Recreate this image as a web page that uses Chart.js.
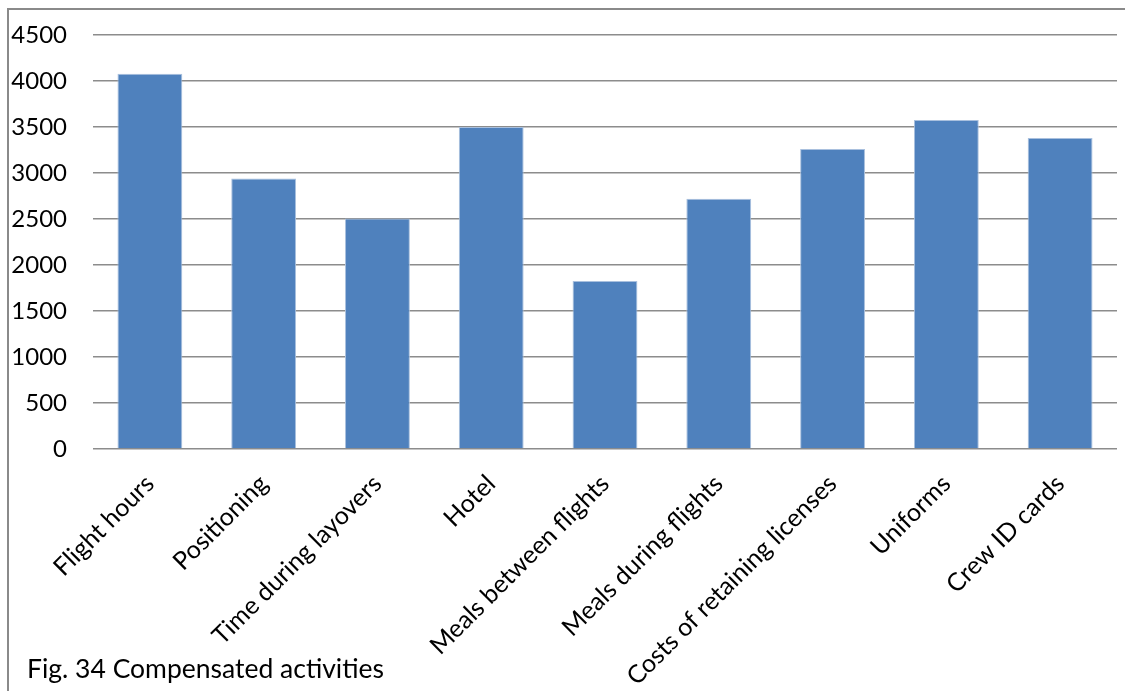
<!DOCTYPE html>
<html>
<head>
<meta charset="utf-8">
<script src="https://cdn.jsdelivr.net/npm/chart.js@4.4.1/dist/chart.umd.min.js"></script>
<style>
  html, body { margin: 0; padding: 0; background: #fff; }
  #wrap { position: relative; width: 1125px; height: 691px; overflow: hidden; }
  #frame { position: absolute; left: 7px; top: 8px; width: 1200px; height: 800px; border-left: 2px solid #8a8a8a; border-top: 2px solid #8a8a8a; box-sizing: border-box; }
  #caption { position: absolute; left: 27px; top: 652px; font-family: Lato, "Open Sans", sans-serif; font-size: 26.5px; color: #000; white-space: nowrap; }
  canvas { position: absolute; left: 0; top: 0; }
</style>
</head>
<body>
<div id="wrap">
  <div id="frame"></div>
  <canvas id="c" width="1125" height="691"></canvas>
  <div id="caption">Fig. 34 Compensated activities</div>
</div>
<script>
const categories = ["Flight hours", "Positioning", "Time during layovers", "Hotel", "Meals between flights", "Meals during flights", "Costs of retaining licenses", "Uniforms", "Crew ID cards"];
const values = [4080, 2940, 2505, 3500, 1825, 2720, 3260, 3575, 3380];
const yMin = 0, yMax = 4500, yStep = 500;

new Chart(document.getElementById('c'), {
  type: 'bar',
  data: {
    labels: categories,
    datasets: [{
      data: values,
      backgroundColor: '#4f81bd',
      borderColor: '#a9c0de',
      borderWidth: 1,
      barPercentage: 0.57,
      categoryPercentage: 1.0
    }]
  },
  options: {
    responsive: false,
    animation: false,
    devicePixelRatio: 1,
    layout: { padding: { left: 0, top: 35, right: 8, bottom: 0 } },
    plugins: { legend: { display: false }, tooltip: { enabled: false }, title: { display: false } },
    scales: {
      x: {
        grid: { display: false },
        border: { display: false },
        ticks: {
          minRotation: 45, maxRotation: 45, autoSkip: false,
          color: '#000', padding: 12,
          font: { family: 'Lato, "Open Sans", sans-serif', size: 25 }
        },
        afterFit: s => { s.height = 242; s.paddingLeft = 0; s.paddingRight = 0; }
      },
      y: {
        min: yMin, max: yMax,
        grid: { color: '#8c8c8c', lineWidth: 1.5, drawTicks: false },
        border: { display: false },
        ticks: {
          stepSize: yStep, color: '#000', padding: 26,
          callback: v => String(v),
          font: { family: 'Lato, "Open Sans", sans-serif', size: 24 }
        },
        afterFit: s => { s.width = 93; s.paddingTop = 0; s.paddingBottom = 0; }
      }
    }
  }
});
</script>
</body>
</html>
